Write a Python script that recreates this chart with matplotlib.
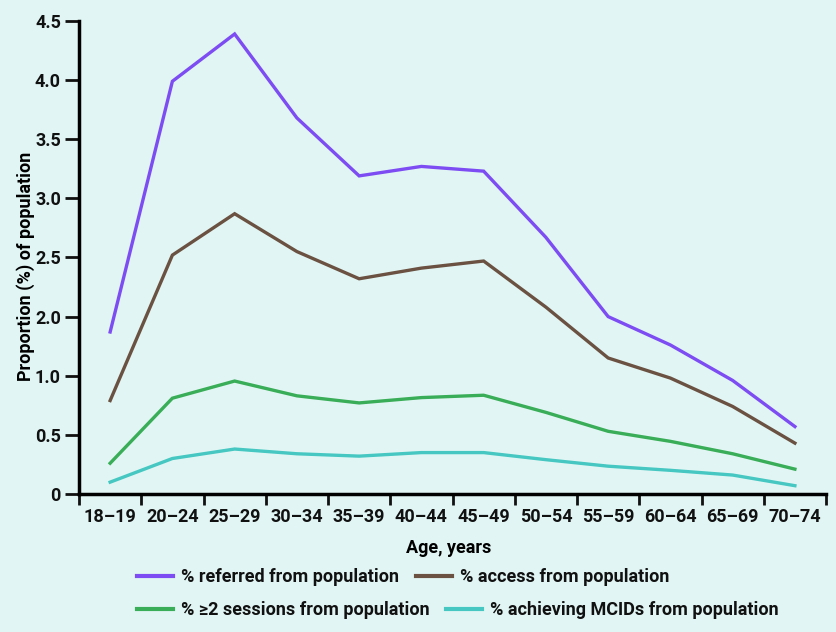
import matplotlib
matplotlib.use("Agg")
import matplotlib.pyplot as plt
from matplotlib.lines import Line2D

# age bands on the x axis
ages = ["18–19", "20–24", "25–29", "30–34", "35–39", "40–44",
        "45–49", "50–54", "55–59", "60–64", "65–69", "70–74"]

# values in axis-position units (the printed tick labels jump from 1.0 to 2.0)
referred = [1.37, 3.49, 3.89, 3.18, 2.69, 2.77, 2.73, 2.17, 1.50, 1.26, 0.96, 0.57]
access = [0.79, 2.02, 2.37, 2.05, 1.82, 1.91, 1.97, 1.58, 1.15, 0.98, 0.74, 0.43]
sessions = [0.26, 0.81, 0.955, 0.83, 0.77, 0.815, 0.835, 0.69, 0.53, 0.445, 0.34, 0.21]
mcids = [0.10, 0.30, 0.38, 0.34, 0.32, 0.35, 0.35, 0.29, 0.235, 0.20, 0.16, 0.07]

y_ticks = [0, 0.5, 1.0, 1.5, 2.0, 2.5, 3.0, 3.5, 4.0]
y_labels = ["0", "0.5", "1.0", "2.0", "2.5", "3.0", "3.5", "4.0", "4.5"]

series_names = ["% referred from population", "% access from population",
                "% \u22652 sessions from population", "% achieving MCIDs from population"]
colors = ["#7d4cf2", "#6a5141", "#39ad57", "#46c7c1"]

BG = "#e1f6f4"
FS = 13

plt.rcParams["font.family"] = ["Roboto", "DejaVu Sans"]
plt.rcParams["font.weight"] = "bold"
plt.rcParams["text.color"] = "#111111"
plt.rcParams["xtick.color"] = "#111111"
plt.rcParams["ytick.color"] = "#111111"

fig = plt.figure(figsize=(8.37, 6.32), dpi=100, facecolor=BG)
ax = fig.add_axes([0.0944, 0.2184, 0.8925, 0.7484])
ax.set_facecolor(BG)

x = list(range(len(ages)))
for vals, c in zip([referred, access, sessions, mcids], colors):
    ax.plot(x, vals, color=c, lw=2.4, solid_joinstyle="miter", zorder=3)

ax.set_xlim(-0.5, len(ages) - 0.5)
ax.set_ylim(0, 4.0)

ax.set_yticks(y_ticks)
ax.set_yticklabels(y_labels, fontsize=FS, fontweight="bold")

# tick marks at band boundaries, labels at centres
ax.set_xticks([i - 0.5 for i in range(len(ages) + 1)])
ax.set_xticklabels([])
ax.set_xticks(x, minor=True)
ax.set_xticklabels(ages, minor=True, fontsize=FS, fontweight="bold")
ax.tick_params(axis="x", which="minor", length=0, pad=10)
ax.tick_params(axis="x", which="major", length=8, width=2, direction="out")
ax.tick_params(axis="y", length=10, width=2, direction="out", pad=3)

for s in ["top", "right"]:
    ax.spines[s].set_visible(False)
for s in ["left", "bottom"]:
    ax.spines[s].set_linewidth(2.5)

ax.set_xlabel("Age, years", fontsize=FS, fontweight="bold")
ax.xaxis.set_label_coords(0.495, -0.114)
ax.xaxis.label.set_verticalalignment("center")
ax.set_ylabel("Proportion (%) of population", fontsize=FS, fontweight="bold")
ax.yaxis.set_label_coords(-0.072, 0.482)
ax.yaxis.label.set_verticalalignment("center")

handles = [Line2D([], [], color=c, lw=3) for c in colors]
leg_kw = dict(ncol=2, frameon=False, prop={"size": FS, "weight": "bold"},
              handlelength=2.0, handletextpad=0.45, columnspacing=0.9,
              borderaxespad=0, borderpad=0, loc="center left")
fig.legend(handles[:2], series_names[:2], bbox_to_anchor=(0.1637, 0.087), **leg_kw)
fig.legend(handles[2:], series_names[2:], bbox_to_anchor=(0.1637, 0.035), **leg_kw)

fig.savefig("out.png", dpi=100, facecolor=BG)
